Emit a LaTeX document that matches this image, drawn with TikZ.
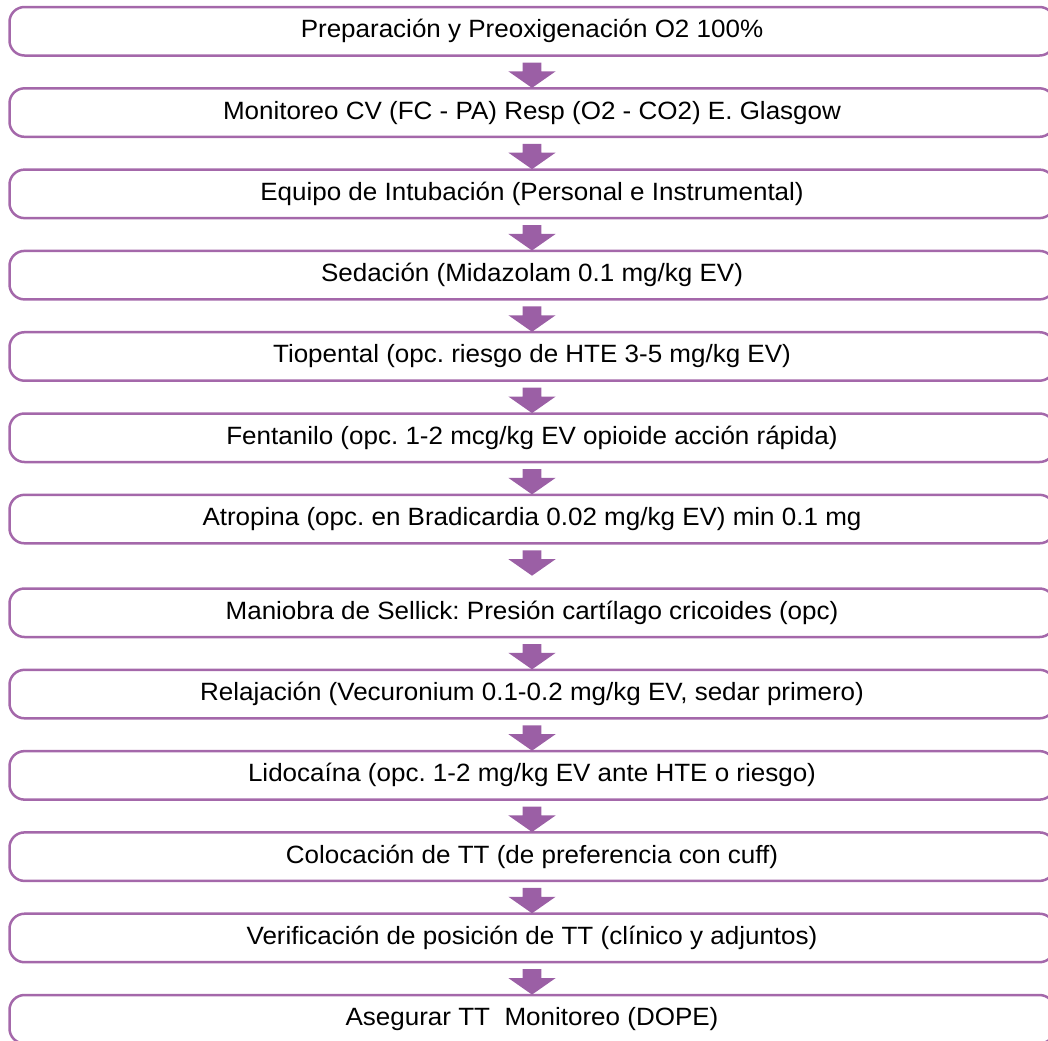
\documentclass[tikz,border=0pt]{standalone}
\usepackage{fontspec}
\setmainfont[FakeStretch=1.04]{Liberation Sans}
\usepackage{xcolor}
\usepackage{tikz}
\usetikzlibrary{arrows.meta}
\usetikzlibrary{shapes.arrows}
\usetikzlibrary{positioning}
\frenchspacing
\definecolor{morado}{HTML}{A468AA}
\definecolor{moradof}{HTML}{9B5FA5}
\tikzset{
  paso/.style={draw=morado, line width=1.25pt, rounded corners=7.5pt, minimum width=522.5pt, minimum height=24.25pt, inner sep=0pt, outer sep=0pt, font=\fontsize{12.5}{15}\selectfont},
  flecha/.style={single arrow, shape border rotate=270, draw=none, fill=moradof, minimum height=11pt, minimum width=18.5pt, inner sep=4.5pt, outer sep=0pt, single arrow tip angle=110},
}

\begin{document}
\begin{tikzpicture}[node distance=16.4pt]
  \useasboundingbox (0,0) rectangle (524pt,-520pt);
  \node[paso, anchor=north west] (p1) at (4.75pt,-3.5pt) {Preparación y Preoxigenación O2 100\%};
  \node[paso, below=of p1] (p2) {Monitoreo CV (FC - PA) Resp (O2 - CO2) E. Glasgow};
  \node[paso, below=of p2] (p3) {Equipo de Intubación (Personal e Instrumental)};
  \node[paso, below=of p3] (p4) {Sedación (Midazolam 0.1 mg/kg EV)};
  \node[paso, below=of p4] (p5) {Tiopental (opc. riesgo de HTE 3-5 mg/kg EV)};
  \node[paso, below=of p5] (p6) {Fentanilo (opc. 1-2 mcg/kg EV opioide acción rápida)};
  \node[paso, below=of p6] (p7) {Atropina (opc. en Bradicardia 0.02 mg/kg EV) min 0.1 mg};
  \node[paso, below=22.6pt of p7] (p8) {Maniobra de Sellick: Presión cartílago cricoides (opc)};
  \node[paso, below=of p8] (p9) {Relajación (Vecuronium 0.1-0.2 mg/kg EV, sedar primero)};
  \node[paso, below=of p9] (p10) {Lidocaína (opc. 1-2 mg/kg EV ante HTE o riesgo)};
  \node[paso, below=of p10] (p11) {Colocación de TT (de preferencia con cuff)};
  \node[paso, below=of p11] (p12) {Verificación de posición de TT (clínico y adjuntos)};
  \node[paso, below=of p12] (p13) {Asegurar TT~ Monitoreo (DOPE)};
  \node[flecha, below=3.5pt of p1] (f1) {}; \node[flecha, below=3.5pt of p2] (f2) {};
  \node[flecha, below=3.5pt of p3] (f3) {}; \node[flecha, below=3.5pt of p4] (f4) {};
  \node[flecha, below=3.5pt of p5] (f5) {}; \node[flecha, below=3.5pt of p6] (f6) {};
  \node[flecha, below=3.5pt of p7] (f7) {}; \node[flecha, below=3.5pt of p8] (f8) {};
  \node[flecha, below=3.5pt of p9] (f9) {}; \node[flecha, below=3.5pt of p10] (f10) {};
  \node[flecha, below=3.5pt of p11] (f11) {}; \node[flecha, below=3.5pt of p12] (f12) {};
\end{tikzpicture}
\end{document}
